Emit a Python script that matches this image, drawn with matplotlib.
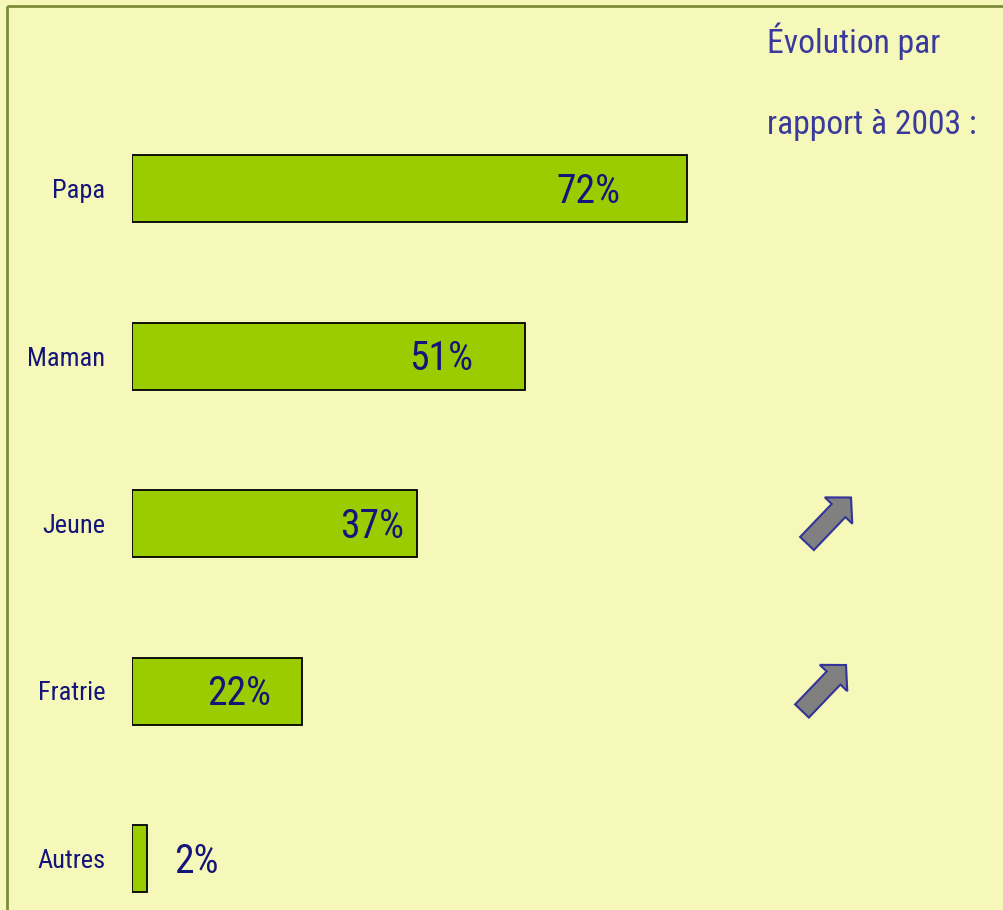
import matplotlib.pyplot as plt
from matplotlib.patches import FancyArrow, Rectangle
from matplotlib import font_manager

categories = ['Papa', 'Maman', 'Jeune', 'Fratrie', 'Autres']
values = [72, 51, 37, 22, 2]
evolution = ['', '', 'up', 'up', '']
title_lines = ['Évolution par', 'rapport à 2003 :']

# narrowest available family
names = {f.name for f in font_manager.fontManager.ttflist}
for fam in ['Liberation Sans Narrow', 'Roboto Condensed', 'Open Sans Condensed',
            'Noto Sans Condensed']:
    if fam in names:
        plt.rcParams['font.family'] = [fam, 'DejaVu Sans']
        break
else:
    plt.rcParams['font.family'] = ['DejaVu Sans']
    plt.rcParams['font.stretch'] = 'condensed'

bg = '#F5F8B8'
navy = '#14147A'
W, H = 1004, 910

fig = plt.figure(figsize=(W / 100, H / 100), dpi=100, facecolor=bg)
renderer = fig.canvas.get_renderer()


def fit(size, text, target):
    # font size that gives the text roughly the target pixel width
    t = fig.text(0, 0, text, fontsize=size)
    w = t.get_window_extent(renderer).width
    t.remove()
    return size * target / w


cat_size = fit(22, 'Maman', 78)
val_size = fit(28, '72%', 64)
title_size = fit(27, 'rapport à 2003 :', 210)

# main bar axes (pixel layout: left 132, rows 167.5 px apart)
px_per_pct = 7.71
ax_w = 620
top, bottom = 104.75, 908.75
ax = fig.add_axes([132 / W, (H - bottom) / H, ax_w / W, (bottom - top) / H])
ax.set_facecolor('none')
ax.barh(range(len(values)), values, height=0.4, color='#9ACC00',
        edgecolor='black', linewidth=1.3)
ax.set_xlim(0, ax_w / px_per_pct)
ax.set_ylim(4.3, -0.5)
ax.set_yticks(range(len(categories)))
ax.set_yticklabels(categories, fontsize=cat_size, color=navy)
ax.tick_params(axis='y', length=0, pad=19)
ax.set_xticks([])
for s in ax.spines.values():
    s.set_visible(False)

# value labels, right edge in % units
label_right = [63.3, 44.2, 35.3, 18.0, 11.2]
for i, v in enumerate(values):
    ax.text(label_right[i], i + 0.015, f'{v}%', ha='right', va='center',
            fontsize=val_size, color=navy)

# overlay in pixel coordinates for frame, title and arrows
ov = fig.add_axes([0, 0, 1, 1])
ov.set_xlim(0, W)
ov.set_ylim(H, 0)
ov.axis('off')
ov.set_facecolor('none')
ov.add_patch(Rectangle((7, 6), W + 20, H + 20, fill=False,
                       edgecolor='#7E8C3C', linewidth=2))

ov.text(767, 53, title_lines[0], fontsize=title_size, color='#3A3A9C', va='baseline')
ov.text(767, 134, title_lines[1], fontsize=title_size, color='#3A3A9C', va='baseline')

for i, ev in enumerate(evolution):
    if ev != 'up':
        continue
    _, cy = ax.transData.transform((0, i))
    cy = H - cy
    cx = 828 - 5 * (i - 2)
    ov.add_patch(FancyArrow(cx - 21, cy + 20, 44, -46, width=19,
                            head_width=38, head_length=18,
                            length_includes_head=True,
                            facecolor='#808080', edgecolor='#333399',
                            linewidth=1.5))

fig.savefig('out.png', dpi=100, facecolor=bg)
